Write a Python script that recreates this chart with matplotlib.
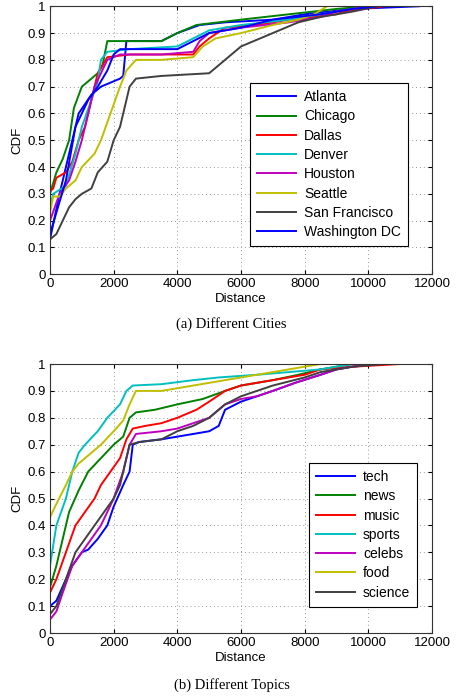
import matplotlib
matplotlib.use("Agg")
import matplotlib.pyplot as plt

plt.rcParams["font.family"] = ["Liberation Sans", "DejaVu Sans"]

# (a) Different Cities (distance, cdf)
atlanta_x = [0, 300, 600, 900, 1300, 1600, 2200, 2300, 2400, 3500, 4000, 4700, 5500, 7000, 8000, 9500, 11600]
atlanta_y = [0.13, 0.30, 0.45, 0.60, 0.67, 0.70, 0.73, 0.74, 0.87, 0.87, 0.90, 0.93, 0.94, 0.95, 0.97, 0.99, 1.0]
chicago_x = [0, 200, 400, 600, 750, 1000, 1200, 1500, 1650, 1800, 3500, 4000, 4600, 6000, 7500, 9000, 10000]
chicago_y = [0.30, 0.38, 0.43, 0.50, 0.62, 0.70, 0.72, 0.75, 0.78, 0.87, 0.87, 0.90, 0.93, 0.95, 0.97, 0.99, 1.0]
dallas_x = [0, 100, 200, 500, 700, 900, 1100, 1300, 1500, 1800, 2500, 4500, 4700, 5000, 5500, 6500, 7500, 9000, 9200, 10500]
dallas_y = [0.31, 0.32, 0.36, 0.38, 0.42, 0.50, 0.55, 0.65, 0.75, 0.81, 0.82, 0.82, 0.85, 0.88, 0.92, 0.93, 0.95, 0.97, 0.98, 1.0]
denver_x = [0, 100, 500, 800, 1000, 1300, 1500, 1600, 1800, 2500, 4000, 4500, 5000, 6000, 7500, 8500, 9500, 10000]
denver_y = [0.25, 0.30, 0.33, 0.45, 0.55, 0.65, 0.72, 0.80, 0.83, 0.84, 0.85, 0.88, 0.91, 0.93, 0.95, 0.97, 0.99, 1.0]
houston_x = [0, 300, 600, 800, 1000, 1200, 1400, 1600, 1800, 2200, 3500, 4500, 4700, 5000, 6000, 7500, 8500, 9000, 10000]
houston_y = [0.20, 0.30, 0.35, 0.42, 0.50, 0.60, 0.70, 0.75, 0.80, 0.82, 0.82, 0.83, 0.87, 0.90, 0.92, 0.94, 0.96, 0.98, 1.0]
seattle_x = [0, 100, 300, 500, 800, 1000, 1400, 1600, 1900, 2200, 2400, 2700, 3500, 4500, 4800, 5200, 6000, 7000, 7800, 8300, 8700]
seattle_y = [0.23, 0.29, 0.29, 0.32, 0.35, 0.40, 0.45, 0.50, 0.60, 0.70, 0.76, 0.80, 0.80, 0.81, 0.85, 0.88, 0.90, 0.93, 0.95, 0.97, 1.0]
sf_x = [0, 200, 400, 600, 800, 1000, 1300, 1500, 1800, 2000, 2200, 2300, 2500, 2700, 3500, 5000, 5500, 6000, 7000, 7800, 8500, 9500, 10300]
sf_y = [0.13, 0.15, 0.20, 0.25, 0.28, 0.30, 0.32, 0.38, 0.42, 0.50, 0.55, 0.60, 0.70, 0.73, 0.74, 0.75, 0.80, 0.85, 0.90, 0.94, 0.96, 0.98, 1.0]
dc_x = [0, 500, 800, 1200, 1500, 1800, 2000, 2200, 4000, 4500, 5000, 6000, 7000, 8500, 9500, 10300]
dc_y = [0.15, 0.35, 0.55, 0.65, 0.70, 0.76, 0.82, 0.84, 0.84, 0.87, 0.90, 0.92, 0.95, 0.97, 0.99, 1.0]

# (b) Different Topics
tech_x = [0, 200, 500, 700, 1000, 1200, 1500, 1800, 2000, 2300, 2500, 2600, 2800, 3500, 4000, 4500, 5000, 5300, 5500, 6000, 6500, 7000, 7700, 8500, 9000, 9500, 10300]
tech_y = [0.10, 0.12, 0.20, 0.25, 0.30, 0.31, 0.35, 0.40, 0.47, 0.55, 0.60, 0.70, 0.71, 0.72, 0.73, 0.74, 0.75, 0.77, 0.83, 0.86, 0.88, 0.90, 0.93, 0.96, 0.98, 0.99, 1.0]
news_x = [0, 200, 400, 600, 900, 1200, 1600, 2000, 2300, 2500, 2700, 3300, 4000, 4800, 5500, 6000, 7000, 7800, 8500, 9000, 9500]
news_y = [0.17, 0.25, 0.35, 0.45, 0.53, 0.60, 0.65, 0.70, 0.73, 0.80, 0.82, 0.83, 0.85, 0.87, 0.90, 0.92, 0.94, 0.96, 0.98, 0.99, 1.0]
music_x = [0, 200, 500, 800, 1100, 1400, 1600, 1900, 2200, 2400, 2600, 3000, 3500, 4000, 4600, 5000, 5500, 6000, 7000, 8000, 8500, 9500, 11000]
music_y = [0.15, 0.20, 0.30, 0.40, 0.45, 0.50, 0.55, 0.60, 0.65, 0.72, 0.76, 0.77, 0.78, 0.80, 0.83, 0.86, 0.90, 0.92, 0.94, 0.96, 0.98, 0.99, 1.0]
sports_x = [0, 200, 500, 700, 900, 1100, 1500, 1800, 2200, 2400, 2600, 3500, 4500, 5300, 6500, 7500, 8500, 9500]
sports_y = [0.25, 0.40, 0.50, 0.60, 0.67, 0.70, 0.75, 0.80, 0.85, 0.90, 0.92, 0.925, 0.94, 0.95, 0.96, 0.97, 0.98, 1.0]
celebs_x = [0, 200, 400, 700, 1000, 1300, 1600, 2000, 2300, 2500, 2700, 3500, 4000, 4500, 5000, 5500, 6000, 6500, 7000, 7700, 8500, 9000, 10000]
celebs_y = [0.05, 0.08, 0.15, 0.25, 0.30, 0.35, 0.40, 0.50, 0.60, 0.70, 0.74, 0.75, 0.76, 0.78, 0.80, 0.85, 0.87, 0.88, 0.90, 0.93, 0.96, 0.98, 1.0]
food_x = [0, 200, 500, 700, 900, 1100, 1600, 2000, 2300, 2500, 2700, 3500, 4500, 5500, 6500, 7500, 8000, 8500]
food_y = [0.43, 0.48, 0.55, 0.60, 0.63, 0.65, 0.70, 0.75, 0.79, 0.85, 0.90, 0.90, 0.92, 0.94, 0.96, 0.98, 0.99, 1.0]
science_x = [0, 200, 500, 800, 1100, 1400, 1700, 2000, 2200, 2400, 2500, 2800, 3500, 4000, 4500, 5000, 5500, 6000, 6500, 7000, 8000, 8500, 9500, 10500]
science_y = [0.07, 0.10, 0.20, 0.30, 0.35, 0.40, 0.45, 0.50, 0.55, 0.65, 0.70, 0.71, 0.72, 0.75, 0.77, 0.80, 0.85, 0.88, 0.90, 0.92, 0.95, 0.97, 0.99, 1.0]

cities = ["Atlanta", "Chicago", "Dallas", "Denver", "Houston", "Seattle", "San Francisco", "Washington DC"]
city_data = [(atlanta_x, atlanta_y), (chicago_x, chicago_y), (dallas_x, dallas_y), (denver_x, denver_y),
             (houston_x, houston_y), (seattle_x, seattle_y), (sf_x, sf_y), (dc_x, dc_y)]
topics = ["tech", "news", "music", "sports", "celebs", "food", "science"]
topic_data = [(tech_x, tech_y), (news_x, news_y), (music_x, music_y), (sports_x, sports_y),
              (celebs_x, celebs_y), (food_x, food_y), (science_x, science_y)]

colors = ["#0000ff", "#008000", "#ff0000", "#00bfbf", "#bf00bf", "#bfbf00", "#404040", "#0000ff"]


def style_axes(ax):
    ax.set_xlim(0, 12000)
    ax.set_ylim(0, 1)
    ax.set_xticks(range(0, 12001, 2000))
    ax.set_yticks([i / 10 for i in range(11)])
    ax.set_yticklabels(["0"] + ["0.%d" % i for i in range(1, 10)] + ["1"])
    ax.tick_params(direction="in", top=True, right=True, labelsize=9.5, length=3, pad=3)
    ax.grid(True, linestyle=(0, (1, 3)), color="#999999", linewidth=0.7)
    ax.set_xlabel("Distance", fontsize=9.5, labelpad=2)
    ax.set_ylabel("CDF", fontsize=9.5, labelpad=3)
    for s in ax.spines.values():
        s.set_linewidth(0.8)
        s.set_color("#333333")


def add_legend(ax, box):
    leg = ax.legend(loc="upper left", bbox_to_anchor=box, mode="expand",
                    fontsize=10, fancybox=False, framealpha=1, edgecolor="black",
                    handlelength=2.8, handletextpad=0.6, borderaxespad=0,
                    labelspacing=0.38, borderpad=0.5)
    leg.get_frame().set_linewidth(0.8)


fig = plt.figure(figsize=(4.63, 6.96), dpi=100)

# -------------------------
# (a) Different Cities
# -------------------------
ax1 = fig.add_axes([0.108, 0.606, 0.825, 0.385])
for name, (x, y), c in zip(cities, city_data, colors):
    ax1.plot(x, y, color=c, linewidth=1.4, label=name)
style_axes(ax1)
add_legend(ax1, (0.524, 0.713, 0.414, 0.0))

# -------------------------
# (b) Different Topics
# -------------------------
ax2 = fig.add_axes([0.108, 0.0905, 0.825, 0.3865])
for name, (x, y), c in zip(topics, topic_data, colors):
    ax2.plot(x, y, color=c, linewidth=1.4, label=name)
style_axes(ax2)
add_legend(ax2, (0.678, 0.632, 0.283, 0.0))

fig.text(0.5, 0.5345, "(a) Different Cities", ha="center", va="center",
         fontsize=10.5, family=["Liberation Serif", "DejaVu Serif"])
fig.text(0.5, 0.0158, "(b) Different Topics", ha="center", va="center",
         fontsize=10.5, family=["Liberation Serif", "DejaVu Serif"])

fig.savefig("out.png", dpi=100)
